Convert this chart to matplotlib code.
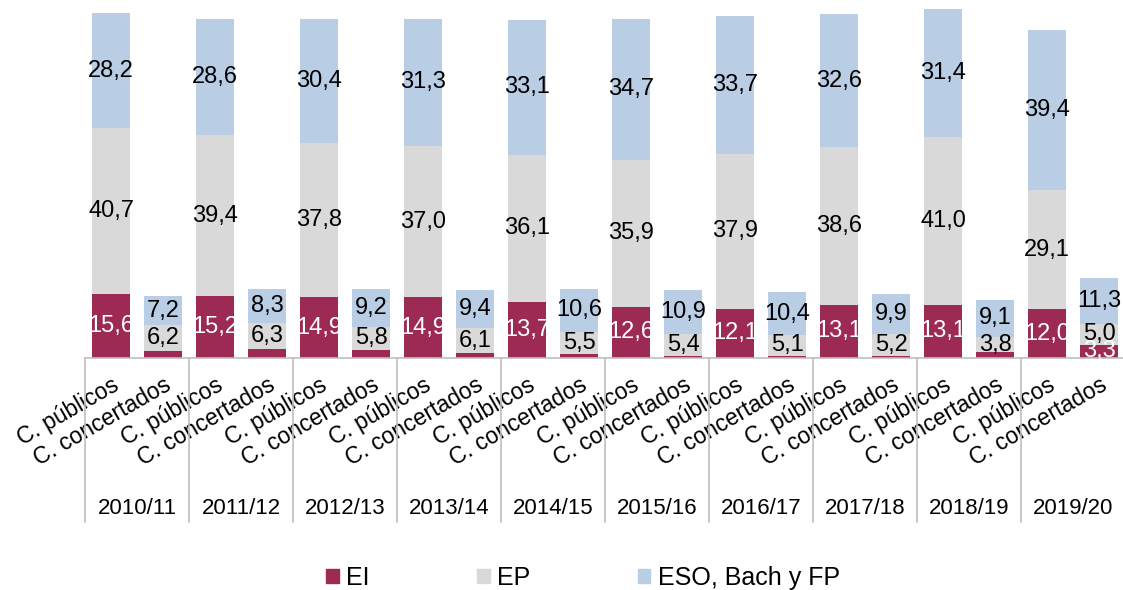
import matplotlib.pyplot as plt
from matplotlib.patches import Patch

plt.rcParams['font.family'] = ['Liberation Sans', 'DejaVu Sans']

years = ["2010/11", "2011/12", "2012/13", "2013/14", "2014/15",
         "2015/16", "2016/17", "2017/18", "2018/19", "2019/20"]
centers = ["C. públicos", "C. concertados"]

# públicos
ei_pub = [15.6, 15.2, 14.9, 14.9, 13.7, 12.6, 12.1, 13.1, 13.1, 12.0]
ep_pub = [40.7, 39.4, 37.8, 37.0, 36.1, 35.9, 37.9, 38.6, 41.0, 29.1]
eso_pub = [28.2, 28.6, 30.4, 31.3, 33.1, 34.7, 33.7, 32.6, 31.4, 39.4]
# concertados (EI estimado salvo 2019/20)
ei_con = [1.8, 2.2, 1.9, 1.2, 0.9, 0.4, 0.6, 0.6, 1.4, 3.3]
ep_con = [6.2, 6.3, 5.8, 6.1, 5.5, 5.4, 5.1, 5.2, 3.8, 5.0]
eso_con = [7.2, 8.3, 9.2, 9.4, 10.6, 10.9, 10.4, 9.9, 9.1, 11.3]

COLOR_EI = "#9C2A55"
COLOR_EP = "#D9D9D9"
COLOR_ESO = "#B9CDE5"
COLOR_GRID = "#BFBFBF"

# intercalar públicos / concertados
ei, ep, eso, labels = [], [], [], []
for i in range(len(years)):
    ei += [ei_pub[i], ei_con[i]]
    ep += [ep_pub[i], ep_con[i]]
    eso += [eso_pub[i], eso_con[i]]
    labels += centers
xs = list(range(len(ei)))
show_ei = [True if (k % 2 == 0 or v >= 3) else False for k, v in enumerate(ei)]

fig = plt.figure(figsize=(11.23, 5.90), dpi=100)
ax = fig.add_axes([85 / 1123, (590 - 358) / 590, 1040 / 1123, 355 / 590])

W = 0.73
ax.bar(xs, ei, W, color=COLOR_EI, zorder=2)
bottom2 = ei
ax.bar(xs, ep, W, bottom=bottom2, color=COLOR_EP, zorder=2)
bottom3 = [a + b for a, b in zip(ei, ep)]
ax.bar(xs, eso, W, bottom=bottom3, color=COLOR_ESO, zorder=2)

def fmt(v):
    return "{0:.1f}".format(v).replace(".", ",")

for k in xs:
    if show_ei[k]:
        ax.text(k, ei[k] / 2, fmt(ei[k]), ha="center", va="center",
                color="white", fontsize=17, zorder=4)
    ax.text(k, bottom2[k] + ep[k] / 2, fmt(ep[k]), ha="center", va="center",
            color="black", fontsize=17, zorder=4)
    ax.text(k, bottom3[k] + eso[k] / 2, fmt(eso[k]), ha="center", va="center",
            color="black", fontsize=17, zorder=4)

ax.set_xlim(-0.5, len(xs) - 0.5)
ax.set_ylim(0, 87)

# ejes
for side in ["left", "right", "top"]:
    ax.spines[side].set_visible(False)
ax.spines["bottom"].set_color(COLOR_GRID)
ax.spines["bottom"].set_linewidth(1.2)
ax.set_yticks([])
ax.set_xticks(xs)
ax.set_xticklabels(labels, rotation=30, ha="right", va="top",
                   rotation_mode="anchor", fontsize=16.5)
ax.tick_params(axis="x", length=0, pad=11)

# separadores de grupos y etiquetas de curso
sep_depth = (522 - 358) / 355
for i in range(len(years)):
    x_sep = 2 * i - 0.5
    ax.plot([x_sep, x_sep], [0, -sep_depth], color=COLOR_GRID, lw=1.2,
            transform=ax.get_xaxis_transform(), clip_on=False)
    ax.text(2 * i + 0.5, -(508 - 358) / 355, years[i], ha="center", va="center",
            fontsize=16, transform=ax.get_xaxis_transform())

# leyenda
handles = [Patch(color=COLOR_EI), Patch(color=COLOR_EP), Patch(color=COLOR_ESO)]
fig.legend(handles, ["EI", "EP", "ESO, Bach y FP"],
           loc="center", bbox_to_anchor=(583 / 1123, (590 - 578) / 590),
           ncol=3, frameon=False, fontsize=18,
           handlelength=0.5, handleheight=0.5, handletextpad=0.3,
           columnspacing=4.3)

plt.savefig("out.png", dpi=100)
